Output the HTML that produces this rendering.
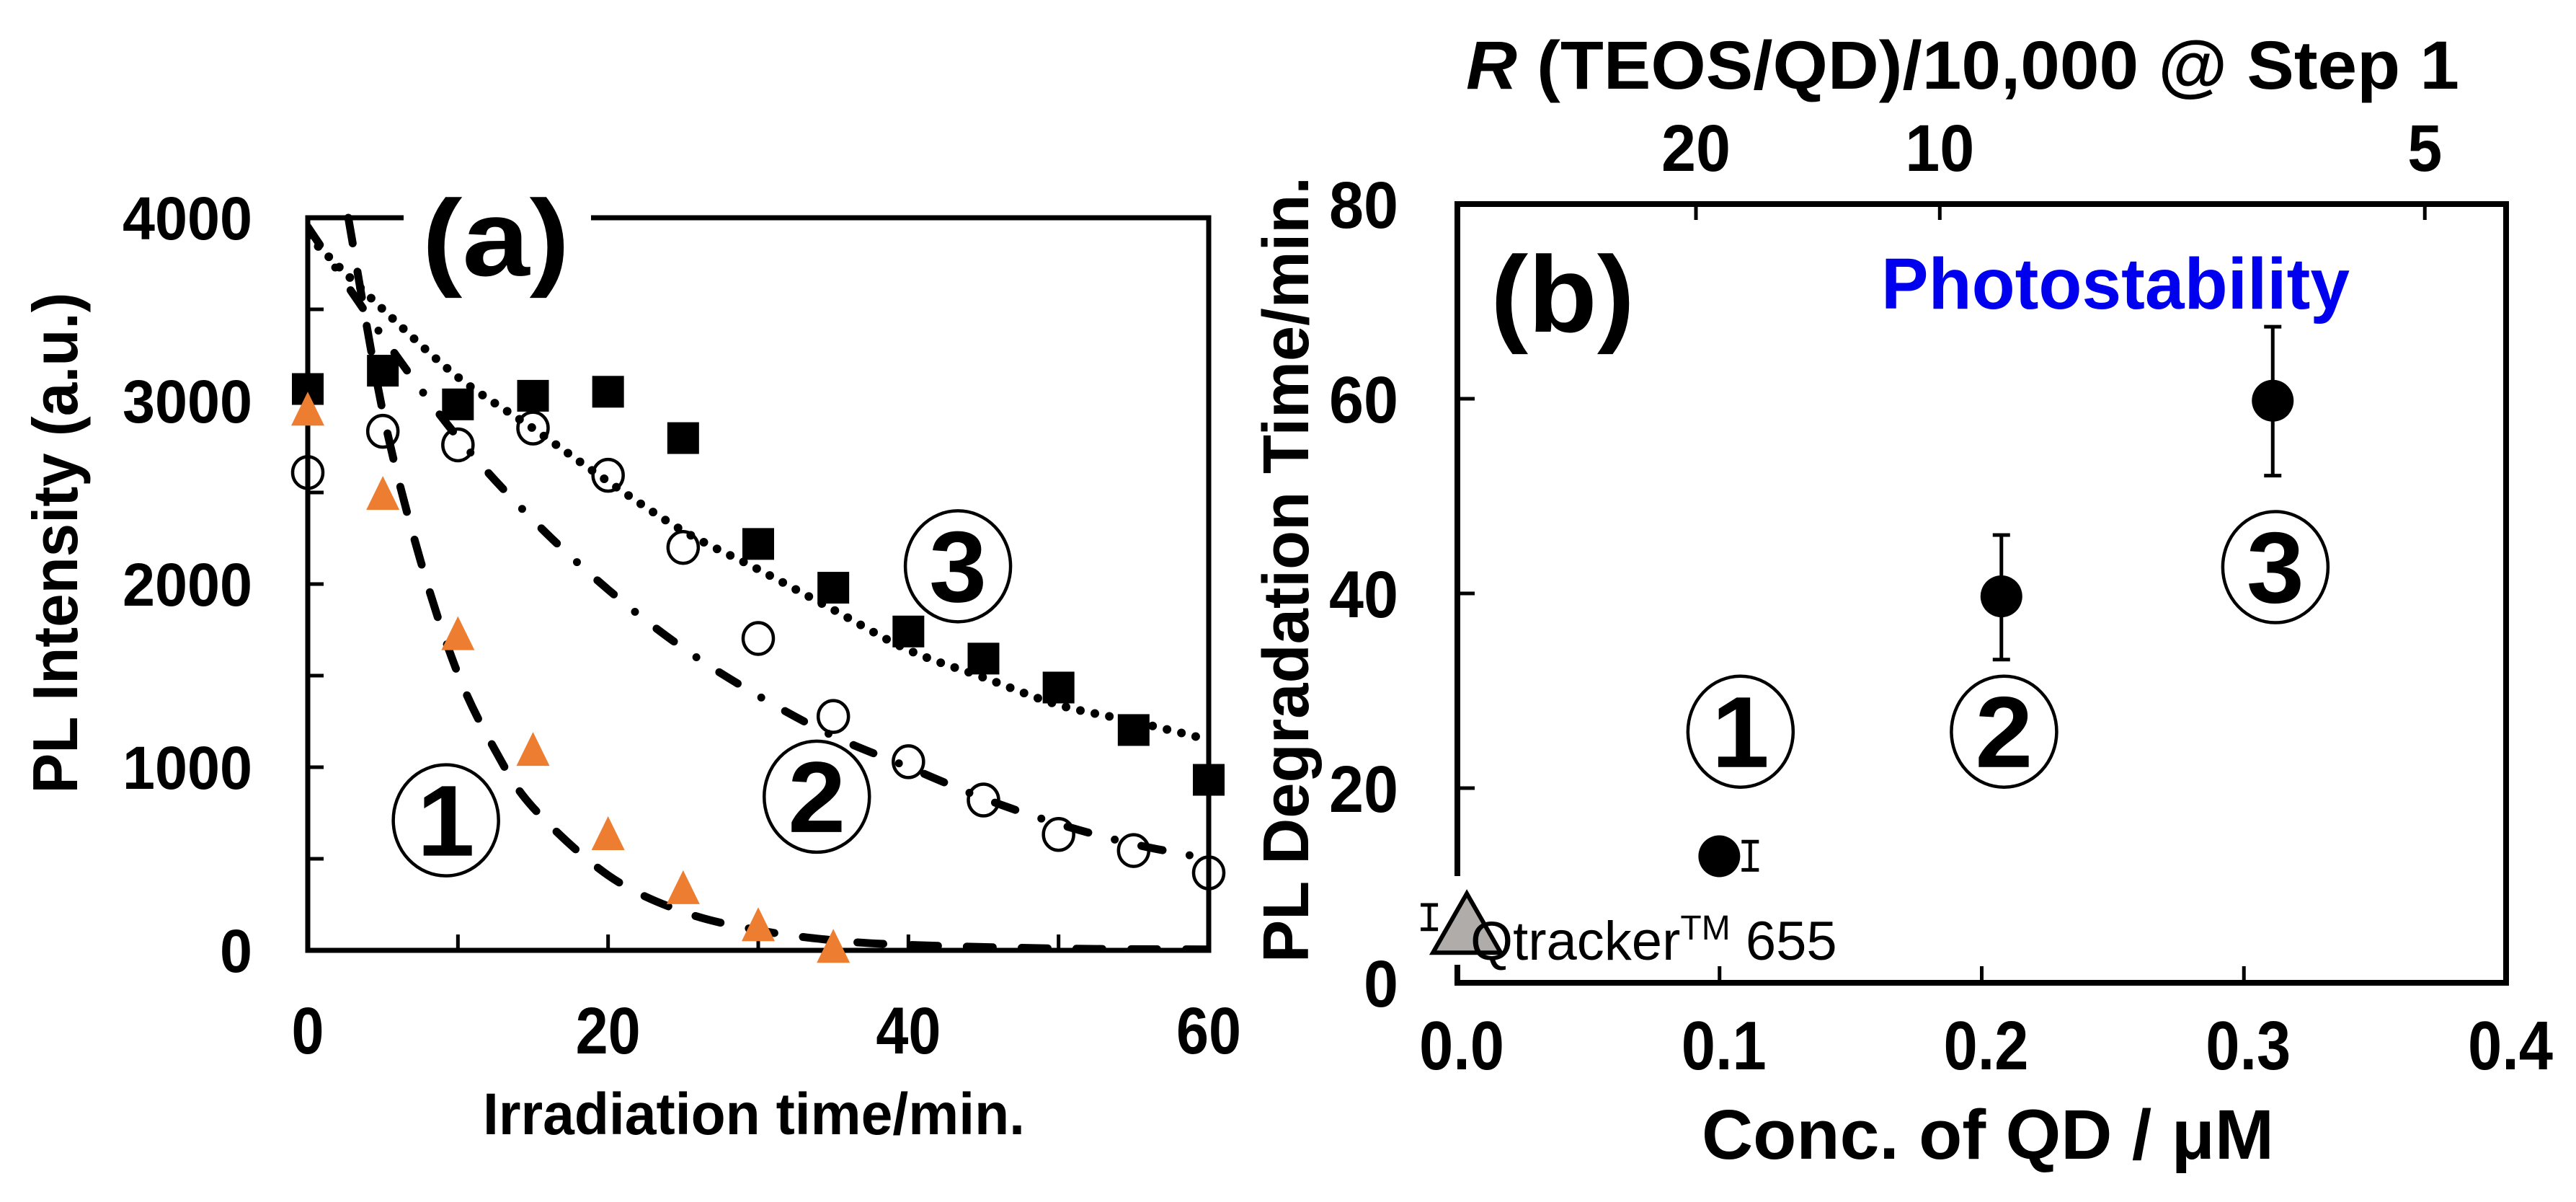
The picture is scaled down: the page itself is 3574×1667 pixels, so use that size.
<!DOCTYPE html>
<html><head><meta charset="utf-8"><style>
html,body{margin:0;padding:0;background:#fff;}
svg{display:block;}
text{font-family:"Liberation Sans",Arial,sans-serif;}
</style></head>
<body>
<svg id="fig" xmlns="http://www.w3.org/2000/svg" width="3574" height="1667" viewBox="0 0 3574 1667">
<rect width="3574" height="1667" fill="#fff"/>
<g id="pa"></g>
<g id="pb"></g>
</svg>
<script>
// ---------- Panel (a) data ----------
const aTime = [0,5,10,15,20,25,30,35,40,45,50,55,60];
const aSquares = [3065,3165,2981,3028,3050,2797,2219,1980,1741,1593,1435,1203,931];
const aCircles = [2609,2834,2760,2852,2594,2200,1703,1277,1030,821,633,545,423];
const aTriTime = [0,5,10,15,20,25,30,35];
const aTriangles = [2944,2484,1718,1086,626,331,129,11];
const fit1X = [2.7,5,7.5,10,12.5,15,20,25,30,35,40,50,60];
const fit1Y = [4000,2940,2130,1510,1090,780,410,210,110,55,30,10,5];
const fit2X = [0,5,10,15,20,25,30,35,40,45,50,55,60];
const fit2Y = [3950,3350,2800,2350,1970,1650,1390,1170,1000,830,690,580,500];
const fit3X = [0,5,10,15,20,25,30,35,40,45,50,55,60];
const fit3Y = [3900,3500,3130,2850,2560,2290,2080,1860,1640,1490,1340,1250,1150];
const aXTicks = [0,20,40,60];
const aYTicks = [0,1000,2000,3000,4000];
// ---------- Panel (b) data ----------
const bConc = [0.0999,0.2075,0.311];
const bTime = [13.0,39.7,59.8];
const bErrHi = [14.5,46.0,67.4];
const bErrLo = [11.6,33.2,52.1];
const bErrX = [0.1117,0.2075,0.311];
const qConc = 0.0036, qTime = 6.8, qErrX = -0.0107, qErrHi = 8.0, qErrLo = 5.5;
const bXTicks = [0.0,0.1,0.2,0.3,0.4];
const bXTickLabels = ['0.0','0.1','0.2','0.3','0.4'];
const bYTicks = [0,20,40,60,80];
const bTopTickPos = [0.091,0.184,0.369];
const bTopTickLabels = ['20','10','5'];

const NS='http://www.w3.org/2000/svg';
function mk(parent,tag,attrs){const e=document.createElementNS(NS,tag);for(const k in attrs)e.setAttribute(k,attrs[k]);parent.appendChild(e);return e;}
function txt(parent,s,x,y,size,opts){opts=opts||{};const e=mk(parent,'text',{x:x,y:y,'font-size':size,'font-weight':opts.w||'bold','text-anchor':opts.a||'middle',fill:opts.fill||'#000'});
 if(opts.len){e.setAttribute('textLength',opts.len);e.setAttribute('lengthAdjust','spacingAndGlyphs');}
 if(opts.rot)e.setAttribute('transform','rotate(-90 '+x+' '+y+')');e.textContent=s;return e;}

// ---------- Panel (a) ----------
const pa=document.getElementById('pa');
const ax=v=>427+(v/60)*(1677-427);
const ay=v=>1318-(v/4000)*(1318-302);
for(let v=10;v<60;v+=10){const t=mk(pa,'line',{x1:ax(v),x2:ax(v),y1:1318,y2:1296,stroke:'#000','stroke-width':5});

}
for(let v=500;v<4000;v+=500){const t=mk(pa,'line',{x1:427,x2:449,y1:ay(v),y2:ay(v),stroke:'#000','stroke-width':5});

}
const boxA=mk(pa,'rect',{x:427,y:302,width:1250,height:1016,fill:'none',stroke:'#000','stroke-width':7});


const clipA=mk(pa,'clipPath',{id:'clipA'});mk(clipA,'rect',{x:427,y:290,width:1250,height:1030});
function smooth(xs,ys){const p=xs.map((x,i)=>[ax(x),ay(ys[i])]);let d='M'+p[0][0]+','+p[0][1];
 for(let i=0;i<p.length-1;i++){const p0=p[i-1]||p[i],p1=p[i],p2=p[i+1],p3=p[i+2]||p2;
 const c1=[p1[0]+(p2[0]-p0[0])/6,p1[1]+(p2[1]-p0[1])/6],c2=[p2[0]-(p3[0]-p1[0])/6,p2[1]-(p3[1]-p1[1])/6];
 d+=' C'+c1[0]+','+c1[1]+' '+c2[0]+','+c2[1]+' '+p2[0]+','+p2[1];}return d;}
const c1=mk(pa,'path',{d:smooth(fit1X,fit1Y),fill:'none',stroke:'#000','stroke-width':11,'stroke-linecap':'round','stroke-dasharray':'36 40','clip-path':'url(#clipA)'});


const c2=mk(pa,'path',{d:smooth(fit2X,fit2Y),fill:'none',stroke:'#000','stroke-width':11,'stroke-linecap':'round','stroke-dasharray':'30 38 0 38','clip-path':'url(#clipA)'});


const c3=mk(pa,'path',{d:smooth(fit3X,fit3Y),fill:'none',stroke:'#000','stroke-width':12,'stroke-linecap':'round','stroke-dasharray':'0 20.5','clip-path':'url(#clipA)'});


aTime.forEach((t,i)=>{const s=mk(pa,'rect',{x:ax(t)-22,y:ay(aSquares[i])-22,width:44,height:44,fill:'#000'});

});
aTime.forEach((t,i)=>{const c=mk(pa,'ellipse',{cx:ax(t),cy:ay(aCircles[i]),rx:21,ry:22,fill:'none',stroke:'#000','stroke-width':4.5});

});
aTriTime.forEach((t,i)=>{const x=ax(t),y=ay(aTriangles[i]);const p=mk(pa,'polygon',{points:(x-23)+','+(y+20)+' '+(x+23)+','+(y+20)+' '+x+','+(y-27),fill:'#ed7d31'});

});
mk(pa,'rect',{x:560,y:290,width:260,height:24,fill:'#fff'});
txt(pa,'(a)',688,382,150,{len:205});
aXTicks.forEach(v=>{const e=txt(pa,String(v),ax(v),1461,92,{len:String(v).length*45});

});
aYTicks.forEach(v=>{const e=txt(pa,String(v),350,ay(v)+30,84,{a:'end',len:String(v).length*45});

});
const xtA=txt(pa,'Irradiation time/min.',1046,1573,82,{len:752});


const ytA=txt(pa,'PL Intensity (a.u.)',107,753,88,{rot:true,len:695});


function circled(parent,n,cx,cy,name){const g=mk(parent,'g',{});
 mk(g,'ellipse',{cx:cx,cy:cy,rx:73,ry:77,fill:'#fff','fill-opacity':0,stroke:'#000','stroke-width':4.5});
 txt(g,n,cx,cy+49,140,{len:80});}
circled(pa,'1',ax(9.2),ay(710),'curve-label-1');
circled(pa,'2',ax(33.9),ay(839),'curve-label-2');
circled(pa,'3',ax(43.3),ay(2097),'curve-label-3');

// ---------- Panel (b) ----------
const pb=document.getElementById('pb');
const bx=v=>2022+(v/0.4)*(3477-2022);
const by=v=>1363-(v/80)*(1363-283);
for(let i=1;i<4;i++){const t=mk(pb,'line',{x1:bx(bXTicks[i]),x2:bx(bXTicks[i]),y1:1363,y2:1340,stroke:'#000','stroke-width':5});

}
for(let i=1;i<4;i++){const t=mk(pb,'line',{x1:2022,x2:2046,y1:by(bYTicks[i]),y2:by(bYTicks[i]),stroke:'#000','stroke-width':5});

}
bTopTickPos.forEach(v=>{const t=mk(pb,'line',{x1:bx(v),x2:bx(v),y1:283,y2:305,stroke:'#000','stroke-width':5});

});
const frB=mk(pb,'path',{d:'M2022,1215 L2022,283 L3477,283 L3477,1363 L2022,1363 L2022,1338',fill:'none',stroke:'#000','stroke-width':8});


bConc.forEach((c,i)=>{const x=bx(bErrX[i]);const g=mk(pb,'g',{stroke:'#000','stroke-width':5});


mk(g,'line',{x1:x,x2:x,y1:by(bErrHi[i]),y2:by(bErrLo[i])});
mk(g,'line',{x1:x-12,x2:x+12,y1:by(bErrHi[i]),y2:by(bErrHi[i])});
mk(g,'line',{x1:x-12,x2:x+12,y1:by(bErrLo[i]),y2:by(bErrLo[i])});
const p=mk(pb,'circle',{cx:bx(c),cy:by(bTime[i]),r:29,fill:'#000'});

});
{const x=bx(qErrX);const g=mk(pb,'g',{stroke:'#000','stroke-width':5});


mk(g,'line',{x1:x,x2:x,y1:by(qErrHi),y2:by(qErrLo)});
mk(g,'line',{x1:x-12,x2:x+12,y1:by(qErrHi),y2:by(qErrHi)});
mk(g,'line',{x1:x-12,x2:x+12,y1:by(qErrLo),y2:by(qErrLo)});
const cx=bx(qConc),cy=by(qTime);
const t=mk(pb,'polygon',{points:(cx-47)+','+(cy+50)+' '+(cx+47)+','+(cy+50)+' '+cx+','+(cy-32),fill:'#b0acaa',stroke:'#000','stroke-width':6,'stroke-linejoin':'miter'});

}
const qt=mk(pb,'text',{x:2040,y:1331,'font-size':76,'font-weight':'normal',fill:'#000'});


qt.innerHTML='Qtracker<tspan dy="-28" font-size="48">TM</tspan><tspan dy="28"> 655</tspan>';
txt(pb,'(b)',2168,460,150,{len:200});
const ph=txt(pb,'Photostability',2935,428,100,{fill:'#0000ee',len:650});


bXTicks.forEach((v,i)=>{const e=txt(pb,bXTickLabels[i],bx(v)+6,1483,96,{len:118});

});
bYTicks.forEach(v=>{const s=String(v);const e=txt(pb,s,1940,by(v)+33,92,{a:'end',len:s.length*48});

});
bTopTickPos.forEach((v,i)=>{const s=bTopTickLabels[i];const e=txt(pb,s,bx(v),237,92,{len:s.length*48});

});
const tt=mk(pb,'text',{x:2034,y:123,'font-size':95,'font-weight':'bold',textLength:1378,lengthAdjust:'spacingAndGlyphs'});


tt.innerHTML='<tspan font-style="italic">R</tspan> (TEOS/QD)/10,000 @ Step 1';
const xtB=txt(pb,'Conc. of QD / μM',2758,1607,97,{len:794});


const ytB=txt(pb,'PL Degradation Time/min.',1815,790,90,{rot:true,len:1090});


circled(pb,'1',bx(0.108),by(25.8),'sample-label-1');
circled(pb,'2',bx(0.2085),by(25.8),'sample-label-2');
circled(pb,'3',bx(0.312),by(42.7),'sample-label-3');
</script>
</body></html>
